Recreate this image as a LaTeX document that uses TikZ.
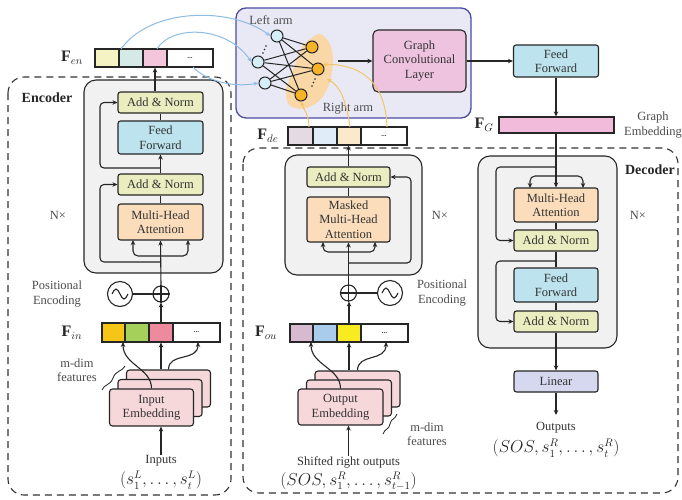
\documentclass[tikz,border=0pt]{standalone}
\usepackage{fontspec}
\setmainfont{Liberation Serif}
\usetikzlibrary{arrows.meta}
\definecolor{annorm}{HTML}{E9EDC0}
\definecolor{ffblue}{HTML}{BDE3EF}
\definecolor{mhaor}{HTML}{FBDDBB}
\definecolor{embpink}{HTML}{F6D7DA}
\definecolor{graybg}{HTML}{F1F1F1}
\definecolor{gfill}{HTML}{E9E9F5}
\definecolor{gbord}{HTML}{4B4BA6}
\definecolor{gclpink}{HTML}{EEC3DF}
\definecolor{fgpink}{HTML}{F2BADB}
\definecolor{linlav}{HTML}{D5D8EE}
\definecolor{bluecurve}{HTML}{8DBDE6}
\definecolor{orcurve}{HTML}{F2C56A}
\definecolor{lcirc}{HTML}{D6EEF6}
\definecolor{rcirc}{HTML}{F5B325}
\definecolor{blobc}{HTML}{FAD7A6}
\definecolor{fenA}{HTML}{F5F3C4}
\definecolor{fenB}{HTML}{D5E9E6}
\definecolor{fenC}{HTML}{F4C6DC}
\definecolor{finA}{HTML}{F5C518}
\definecolor{finB}{HTML}{A5D15A}
\definecolor{finC}{HTML}{EE8A9E}
\definecolor{fdeA}{HTML}{E4DAE3}
\definecolor{fdeB}{HTML}{E0ECF8}
\definecolor{fdeC}{HTML}{FBE9CB}
\definecolor{fouA}{HTML}{D7BAD0}
\definecolor{fouB}{HTML}{A9CBEC}
\definecolor{fouC}{HTML}{F8EB1F}
\begin{document}
\begin{tikzpicture}[x=1pt,y=-1pt,
  every node/.style={font=\fontsize{12.5}{14.5}\selectfont, text=black!80},
  blk/.style={draw=black!85, line width=1.1pt, rounded corners=2.5pt, align=center, inner sep=0pt},
  cell/.style={draw=black!85, line width=1.1pt, inner sep=0pt, minimum height=18, font=\fontsize{7}{7}\selectfont\bfseries},
  arr/.style={-{Stealth[length=5pt,width=4.5pt]}, line width=1.1pt, draw=black!85},
  ln/.style={line width=1.1pt, draw=black!85},
  gblock/.style={draw=black!85, line width=1.1pt, fill=graybg, rounded corners=12pt, inner sep=0pt},
  frame/.style={dash pattern=on 7pt off 5pt, line width=1.1pt, draw=black!80, rounded corners=16pt},
  pcirc/.style={circle, draw=black!85, line width=1.1pt, inner sep=0pt},
  lbl/.style={align=center, text=black!70, inner sep=1pt},
  txt/.style={inner sep=0.5pt},
  mth/.style={font=\fontsize{16}{19}\selectfont, text=black!85, inner sep=0.5pt},
  bcurve/.style={-{Stealth[length=5pt,width=4pt]}, line width=1pt, draw=bluecurve},
  ocurve/.style={-{Stealth[length=5pt,width=4pt]}, line width=1pt, draw=orcurve},
  nnode/.style={circle, draw=black!85, line width=1pt, minimum size=12, inner sep=0pt}
]
\fill[white] (0,0) rectangle (682,499);
\useasboundingbox (0,0) rectangle (682,499);

% ---------------- frames ----------------
\draw[frame] (8,77) rectangle (231,495);
\draw[frame] (243,148) rectangle (678,493);

% ---------------- graph box ----------------
\node[draw=gbord, fill=gfill, line width=1.3pt, rounded corners=10pt, minimum width=235, minimum height=110, inner sep=0pt] (gbox) at (353.5,63) {};
\fill[blobc] plot[smooth cycle] coordinates {(319,34) (330,44) (333,62) (329,85) (319,101) (303,109) (289,105) (286,90) (293,70) (302,47)};
\node[lbl] (leftarm) at (271,20) {Left arm};
\node[lbl] (rightarm) at (348,109) {Right arm};
\node[nnode, fill=lcirc] (L1) at (277,36) {};
\node[nnode, fill=lcirc] (L2) at (258,62) {};
\node[nnode, fill=lcirc] (L3) at (265,83) {};
\node[nnode, fill=rcirc] (R1) at (312,47) {};
\node[nnode, fill=rcirc] (R2) at (318,69) {};
\node[nnode, fill=rcirc] (R3) at (301,95) {};
\foreach \a in {L1,L2,L3} \foreach \b in {R1,R2,R3} \draw[line width=1pt, black!85] (\a) -- (\b);
\foreach \p in {(263,53),(264.5,49.5),(266,46)} \fill[black!85] \p circle (0.9);
\foreach \p in {(312,86),(313.5,82.5),(315,79)} \fill[black!85] \p circle (0.9);
\coordinate (blobE) at (338,61);
\node[blk, fill=gclpink, minimum width=93, minimum height=62, rounded corners=5pt] (gcl) at (419.5,61) {Graph\\Convolutional\\Layer};
\draw[arr] (blobE) -- (gcl.west);
\node[blk, fill=ffblue, minimum width=85, minimum height=32] (tff) at (556,61) {Feed\\Forward};
\draw[arr] (gcl.east) -- (tff.west);
\node[draw=black!85, line width=1.1pt, fill=fgpink, minimum width=115, minimum height=16, inner sep=0pt] (FG) at (556.5,125) {};
\draw[arr] (tff.south) -- (tff.south |- FG.north);
\node[mth] (FGl) at (484,125) {$\mathbf{F}_G$};
\node[lbl] (gemb) at (653,125) {Graph\\Embedding};

% ---------------- encoder ----------------
\node[font=\fontsize{14}{16}\selectfont\bfseries, text=black!85] (enclbl) at (47,98) {Encoder};
\node[gblock, minimum width=139, minimum height=193] (encblk) at (153.5,176.5) {};
\node[lbl] (encN) at (58,215) {N×};
\node[blk, fill=annorm, minimum width=85, minimum height=21] (encAN2) at (160.5,102.5) {Add \& Norm};
\node[blk, fill=ffblue, minimum width=85, minimum height=33] (encFF) at (160.5,137.5) {Feed\\Forward};
\node[blk, fill=annorm, minimum width=85, minimum height=21] (encAN1) at (160.5,184.5) {Add \& Norm};
\node[blk, fill=mhaor, minimum width=85, minimum height=36] (encMHA) at (160.5,222) {Multi-Head\\Attention};
\draw[ln] (encFF.north) -- (encAN2.south);
\draw[arr] (encAN1.north) -- (encFF.south);
\draw[ln] (encMHA.north) -- (encAN1.south);
\draw[arr, rounded corners=4pt] (160.5,168) -- (100,168) -- (100,102.5) -- (encAN2.west);
\draw[arr, rounded corners=4pt] (160.5,262) -- (100,262) -- (100,184.5) -- (encAN1.west);
\draw[arr, rounded corners=5pt] (160.5,256) -- (133,256) -- (133,240);
\draw[arr, rounded corners=5pt] (160.5,256) -- (188,256) -- (188,240);

% F_en
\node[cell, fill=fenA, minimum width=24] (fen1) at (107,58) {};
\node[cell, fill=fenB, minimum width=24] (fen2) at (131,58) {};
\node[cell, fill=fenC, minimum width=24] (fen3) at (155,58) {};
\node[cell, fill=white, minimum width=46] (fen4) at (190,58) {...};
\node[mth] (fenl) at (72,58) {$\mathbf{F}_{en}$};
\draw[arr] (fen3.south |- encAN2.north) -- (fen3.south);

% positional encoding
\node[pcirc, minimum size=16] (encplus) at (161,294) {};
\draw[ln] (encplus.north) -- (encplus.south) (encplus.west) -- (encplus.east);
\node[pcirc, minimum size=25] (encsin) at (120,294) {};
\draw[ln] ([xshift=-8pt]encsin.center) sin ++(4,-5) cos ++(4,5) sin ++(4,5) cos ++(4,-5);
\draw[ln] (encsin.east) -- (encplus.west);
\draw[arr] (encplus.north) -- (encMHA.south);
\node[lbl] (encpe) at (57,294) {Positional\\Encoding};

% F_in
\node[cell, fill=finA, minimum width=23, minimum height=19] (fin1) at (113.5,332.5) {};
\node[cell, fill=finB, minimum width=24, minimum height=19] (fin2) at (137,332.5) {};
\node[cell, fill=finC, minimum width=24, minimum height=19] (fin3) at (161,332.5) {};
\node[cell, fill=white, minimum width=47, minimum height=19] (fin4) at (196.5,332.5) {...};
\node[mth] (finl) at (72,333) {$\mathbf{F}_{in}$};
\draw[arr] (fin3.north) -- (encplus.south);

% input embedding stack
\node[blk, fill=embpink, minimum width=84, minimum height=37, rounded corners=3pt] (ieb) at (168.5,388.5) {};
\node[blk, fill=embpink, minimum width=84, minimum height=37, rounded corners=3pt] (iem) at (160,398) {};
\node[blk, fill=embpink, minimum width=84, minimum height=37, rounded corners=3pt] (ief) at (151.5,407.5) {Input\\Embedding};
\coordinate (finLt) at (123,342);
\coordinate (finRt) at (198,342);
\draw[arr] (fin3.south |- ieb.north) -- (fin3.south);
\draw[arr] (ief.north) .. controls (151.5,368) and (123,365) .. (finLt);
\draw[arr] (ieb.north) .. controls (168.5,352) and (198,362) .. (finRt);
\draw[line width=0.9pt, black!80] (102,390) .. controls (104,384) and (110,386) .. (113,378) .. controls (116,370) and (122,372) .. (125,366);
\node[lbl] (imdim) at (77,370) {m-dim\\features};
\node[txt] (inputs) at (161,461) {Inputs};
\node[mth] (inmath) at (161,480) {$(s_1^L,\ldots,s_t^L)$};
\draw[arr] (inputs.north) -- (inputs.north |- ief.south);

% ---------------- decoder (left, masked) ----------------
\node[gblock, minimum width=137, minimum height=120] (dblk1) at (353.5,215) {};
\node[blk, fill=annorm, minimum width=83, minimum height=20] (dAN) at (348.5,177) {Add \& Norm};
\node[blk, fill=mhaor, minimum width=83, minimum height=45] (dMM) at (348.5,219.5) {Masked\\Multi-Head\\Attention};
\draw[ln] (dMM.north) -- (dAN.south);
\draw[arr, rounded corners=4pt] (348.5,263) -- (411,263) -- (411,177) -- (dAN.east);
\draw[arr, rounded corners=5pt] (348.5,252) -- (323,252) -- (323,242);
\draw[arr, rounded corners=5pt] (348.5,252) -- (375,252) -- (375,242);
\node[lbl] (dN) at (440,215) {N×};

% F_de
\node[cell, fill=fdeA, minimum width=25] (fde1) at (300.5,136) {};
\node[cell, fill=fdeB, minimum width=24] (fde2) at (325,136) {};
\node[cell, fill=fdeC, minimum width=24] (fde3) at (349,136) {};
\node[cell, fill=white, minimum width=46] (fde4) at (384,136) {...};
\node[mth] (fdel) at (268,136) {$\mathbf{F}_{de}$};
\draw[arr] (dAN.north) -- (dAN.north |- fde3.south);

% positional encoding (decoder)
\node[pcirc, minimum size=16] (dplus) at (348.5,293) {};
\draw[ln] (dplus.north) -- (dplus.south) (dplus.west) -- (dplus.east);
\node[pcirc, minimum size=25] (dsin) at (390,293) {};
\draw[ln] ([xshift=-8pt]dsin.center) sin ++(4,-5) cos ++(4,5) sin ++(4,5) cos ++(4,-5);
\draw[ln] (dplus.east) -- (dsin.west);
\draw[arr] (dplus.north) -- (dMM.south);
\node[lbl] (dpe) at (442,293) {Positional\\Encoding};

% F_ou
\node[cell, fill=fouA, minimum width=23] (fou1) at (301.5,333) {};
\node[cell, fill=fouB, minimum width=24] (fou2) at (325,333) {};
\node[cell, fill=fouC, minimum width=24] (fou3) at (349,333) {};
\node[cell, fill=white, minimum width=47] (fou4) at (384.5,333) {...};
\node[mth] (foul) at (266,333) {$\mathbf{F}_{ou}$};
\draw[arr] (fou3.north) -- (fou3.north |- dplus.south);

% output embedding stack
\node[blk, fill=embpink, minimum width=85, minimum height=36, rounded corners=3pt] (oeb) at (357.5,389) {};
\node[blk, fill=embpink, minimum width=85, minimum height=36, rounded corners=3pt] (oem) at (349,398) {};
\node[blk, fill=embpink, minimum width=85, minimum height=36, rounded corners=3pt] (oef) at (340.5,407) {Output\\Embedding};
\coordinate (fouLt) at (311,342);
\coordinate (fouRt) at (386,342);
\draw[arr] (fou3.south |- oeb.north) -- (fou3.south);
\draw[arr] (oef.north) .. controls (340.5,368) and (311,365) .. (fouLt);
\draw[arr] (oeb.north) .. controls (357.5,353) and (386,362) .. (fouRt);
\draw[line width=0.9pt, black!80] (383,434) .. controls (385,428) and (389,430) .. (390,424) .. controls (391,418) and (395,420) .. (397,414);
\node[lbl] (omdim) at (427,434) {m-dim\\features};
\node[txt] (shifted) at (348.5,462) {Shifted right outputs};
\node[mth] (shmath) at (348.5,481) {$(SOS,s_1^R,\ldots,s_{t-1}^R)$};
\draw[arr] (shifted.north) -- (shifted.north |- oef.south);

% ---------------- decoder (right) ----------------
\node[font=\fontsize{14}{16}\selectfont\bfseries, text=black!85] (declbl) at (650,170) {Decoder};
\node[lbl] (dN2) at (638,215) {N×};
\node[gblock, minimum width=139, minimum height=192] (dblk2) at (547.5,252) {};
\node[blk, fill=mhaor, minimum width=84, minimum height=34] (rMHA) at (556,205) {Multi-Head\\Attention};
\node[blk, fill=annorm, minimum width=84, minimum height=21] (rAN1) at (556,240.5) {Add \& Norm};
\node[blk, fill=ffblue, minimum width=84, minimum height=34] (rFF) at (556,285) {Feed\\Forward};
\node[blk, fill=annorm, minimum width=84, minimum height=21] (rAN2) at (556,321.5) {Add \& Norm};
\node[blk, fill=linlav, minimum width=84, minimum height=21] (lin) at (556,381.5) {Linear};
\draw[arr] (FG.south -| rMHA.north) -- (rMHA.north);
\draw[arr, rounded corners=5pt] (556,176) -- (530,176) -- (530,188);
\draw[arr, rounded corners=5pt] (556,176) -- (583,176) -- (583,188);
\draw[ln] (rMHA.south) -- (rAN1.north);
\draw[ln] (rAN1.south) -- (rFF.north);
\draw[ln] (rFF.south) -- (rAN2.north);
\draw[arr, rounded corners=4pt] (556,167) -- (496,167) -- (496,240.5) -- (rAN1.west);
\draw[arr, rounded corners=4pt] (556,261) -- (496,261) -- (496,321.5) -- (rAN2.west);
\draw[arr] (rAN2.south) -- (lin.north);
\coordinate (outend) at (556,415);
\draw[arr] (lin.south) -- (outend);
\node[txt] (outputs) at (556,428) {Outputs};
\node[mth] (outmath) at (556,448) {$(SOS,s_1^R,\ldots,s_t^R)$};

% ---------------- blue curves (encoder -> left arm) ----------------
\draw[bcurve] (121,49) .. controls (150,8) and (230,6) .. (L1.west);
\draw[bcurve] (157,49) .. controls (170,26) and (225,24) .. (L2.west);
\draw[bcurve] (193,67) .. controls (205,80) and (232,88) .. (L3.west);

% ---------------- orange curves (decoder -> right arm) ----------------
\draw[ocurve] (309,127) .. controls (309,115) and (304,110) .. (R3.south);
\draw[ocurve] (350,127) .. controls (346,100) and (340,86) .. (327,79);
\draw[ocurve] (387,127) .. controls (386,92) and (370,64) .. (R2.north east);
\end{tikzpicture}
\end{document}
